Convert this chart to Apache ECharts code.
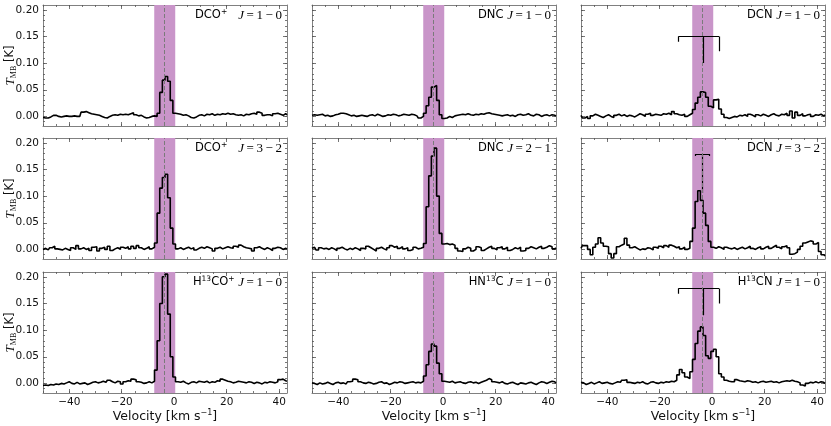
<!DOCTYPE html>
<html>
<head>
<meta charset="utf-8">
<script src="https://cdn.jsdelivr.net/npm/echarts@6/dist/echarts.min.js"></script>
<style>
html, body { margin: 0; padding: 0; background: #fff; }
#chart { width: 831px; height: 426px; }
</style>
</head>
<body>
<div id="chart"></div>
<script>
// channel velocities (km/s)
var velocity = [-50,-49,-48,-47,-46,-45,-44,-43,-42,-41,-40,-39,-38,-37,-36,-35,-34,-33,-32,-31,
  -30,-29,-28,-27,-26,-25,-24,-23,-22,-21,-20,-19,-18,-17,-16,-15,-14,-13,-12,-11,
  -10,-9,-8,-7,-6,-5,-4,-3,-2,-1,0,1,2,3,4,5,6,7,8,9,10,11,12,13,14,15,16,17,18,19,
  20,21,22,23,24,25,26,27,28,29,30,31,32,33,34,35,36,37,38,39,40,41,42,43];

// T_MB (K) per channel
var dco10 = [-0.002,-0.003,-0.003,-0.001,0.002,0.002,0.000,-0.001,0.000,0.001,
  0.000,0.000,0.001,0.000,0.000,0.008,0.009,0.007,0.005,0.004,
  0.003,0.002,0.000,-0.002,-0.003,0.000,0.002,0.003,0.002,0.004,
  0.003,0.004,0.003,0.005,0.007,0.003,0.001,0.002,-0.001,-0.003,
  -0.002,0.000,0.001,0.000,0.006,0.045,0.068,0.075,0.066,0.030,
  0.006,0.005,0.004,0.002,0.003,0.001,-0.002,-0.003,-0.001,0.002,
  0.003,0.001,0.004,0.003,0.005,0.002,0.004,0.003,0.005,0.004,
  0.006,0.004,0.005,0.003,0.002,0.003,0.001,0.004,0.003,0.005,
  0.006,0.004,0.008,0.006,0.002,0.003,0.003,0.001,0.005,0.006,
  0.004,0.002,0.005,0.003];
var dnc10 = [0.002,0.003,0.002,0.003,0.004,0.001,0.002,0.000,0.001,0.003,
  0.004,0.006,0.006,0.005,0.003,0.001,0.002,0.000,0.001,0.002,
  0.001,0.000,0.002,0.003,0.001,0.004,0.002,0.000,0.001,0.003,
  0.002,0.004,0.003,0.001,0.002,0.004,0.003,0.002,0.004,0.003,
  0.001,-0.003,0.000,0.006,0.020,0.036,0.055,0.058,0.030,0.003,
  -0.004,-0.003,0.000,-0.002,0.001,0.002,0.003,0.004,0.003,0.005,
  0.003,0.002,0.004,0.003,0.005,0.004,0.006,0.007,0.005,0.004,
  0.003,0.002,0.001,0.002,0.003,0.001,0.002,0.000,0.003,0.004,
  0.002,0.003,0.005,0.002,0.001,0.004,0.003,0.000,0.002,0.003,
  0.001,0.003,0.002,0.001];
var dcn10 = [0.002,-0.003,0.000,-0.004,0.001,0.004,0.002,0.000,-0.002,0.001,
  0.003,0.000,-0.002,0.002,0.004,0.001,0.003,0.000,0.002,0.001,
  -0.001,0.002,0.005,0.003,0.000,0.004,0.006,0.002,0.004,0.003,
  0.002,0.005,0.004,0.006,0.003,0.009,0.005,0.003,0.002,0.004,
  0.000,0.003,0.006,0.013,0.025,0.036,0.046,0.045,0.036,0.019,
  0.016,0.031,0.032,0.014,0.004,-0.002,-0.004,-0.002,0.000,-0.001,
  0.002,0.001,0.003,0.000,0.004,0.002,-0.001,0.003,0.001,0.004,
  0.002,0.000,0.003,0.005,0.002,0.001,0.004,0.003,0.006,0.002,
  0.010,-0.003,0.008,0.002,0.005,0.001,0.003,0.004,0.000,0.003,
  0.002,0.004,0.001,0.003];
var dco32 = [0.000,0.002,-0.001,0.003,0.006,0.001,0.000,-0.001,0.002,0.000,
  -0.002,0.003,0.000,0.007,0.001,0.003,0.000,0.002,-0.002,0.004,
  0.005,-0.003,0.002,0.004,0.000,0.006,-0.002,0.001,0.003,0.000,
  0.004,0.002,0.005,0.001,0.006,0.002,0.007,0.003,0.000,0.002,
  0.005,0.001,0.004,0.012,0.068,0.115,0.135,0.141,0.097,0.040,
  0.010,0.001,0.003,0.000,0.002,0.004,0.001,0.003,-0.001,0.002,
  0.004,0.002,0.005,0.003,0.001,-0.003,0.002,0.004,0.001,0.003,
  0.005,0.003,0.002,0.006,0.004,0.008,0.005,0.003,0.002,0.001,
  -0.003,0.003,0.005,0.002,0.000,0.003,0.001,-0.002,0.002,0.004,
  0.003,0.000,0.002,0.001];
var dnc21 = [0.002,0.004,-0.001,0.003,0.001,0.002,0.000,0.003,0.001,-0.002,
  0.002,0.004,0.001,-0.001,0.002,0.000,0.003,0.001,-0.002,0.002,
  0.001,0.006,0.003,0.000,-0.003,0.002,0.004,0.001,-0.001,0.003,
  0.007,0.004,0.006,0.002,0.005,0.001,0.003,-0.002,0.000,0.004,
  0.001,0.002,0.004,0.011,0.080,0.138,0.175,0.190,0.100,0.030,
  0.010,0.011,0.009,0.010,0.008,0.002,-0.003,-0.004,0.001,0.004,
  0.002,-0.003,0.000,0.005,0.003,-0.002,0.001,0.004,0.006,0.002,
  -0.001,0.003,0.005,0.001,0.004,-0.002,0.000,0.003,0.001,0.004,
  -0.003,-0.002,0.002,0.005,0.003,0.001,0.004,0.006,0.002,0.004,
  0.007,0.005,0.001,0.003];
var dcn32 = [0.002,0.007,0.007,0.000,-0.010,0.004,0.010,0.022,0.012,0.006,
  0.005,-0.008,-0.016,-0.008,0.005,0.008,0.010,0.021,0.008,0.003,
  0.005,0.002,-0.001,0.001,0.000,0.003,0.002,-0.001,0.004,0.002,
  0.006,0.003,0.007,0.004,0.008,0.006,0.003,0.005,0.001,0.004,
  0.000,0.002,0.015,0.040,0.090,0.110,0.092,0.068,0.045,0.015,
  0.004,0.002,0.005,0.003,0.000,0.004,0.002,0.001,0.003,0.000,
  0.002,0.004,0.001,0.003,0.006,0.002,0.000,0.003,0.005,0.001,
  0.004,0.006,0.002,0.005,0.008,0.004,0.001,0.005,0.007,0.003,
  -0.009,-0.008,-0.005,0.000,0.006,0.012,0.014,0.016,0.015,0.010,
  0.013,-0.004,-0.010,-0.012];
var h13cop10 = [-0.004,-0.003,-0.004,-0.002,-0.003,-0.001,-0.002,0.000,-0.001,0.001,
  0.003,0.000,-0.001,0.002,-0.001,0.000,0.001,-0.002,0.000,0.002,
  0.003,0.001,0.002,0.004,0.002,0.006,0.003,0.001,0.004,0.003,
  -0.001,0.003,0.005,0.004,0.008,0.007,0.003,0.002,0.000,0.001,
  0.003,0.001,0.004,0.025,0.080,0.150,0.200,0.205,0.130,0.050,
  0.012,0.003,0.002,0.004,0.001,-0.001,0.002,0.003,0.001,0.004,
  0.003,0.002,0.004,0.001,0.003,0.002,0.005,0.004,0.008,0.006,
  0.004,0.003,0.001,0.002,0.004,0.003,0.002,0.001,0.003,0.002,
  0.000,0.002,0.001,-0.001,0.002,0.001,0.003,0.002,0.001,0.003,
  0.007,0.008,0.005,0.004];
var hn13c10 = [0.001,0.000,-0.002,0.001,-0.001,0.000,0.002,0.000,-0.002,0.001,
  0.002,0.000,0.001,-0.001,0.003,0.004,0.008,0.007,0.003,0.001,
  0.000,0.002,0.001,-0.001,0.000,0.002,0.003,0.000,0.001,-0.002,
  0.000,0.002,0.001,0.003,0.002,0.000,0.001,0.002,0.003,0.001,
  0.002,0.001,0.004,0.014,0.035,0.060,0.074,0.070,0.038,0.018,
  0.004,0.003,0.002,0.004,0.001,0.002,0.003,0.001,0.000,0.002,
  0.003,0.001,0.002,0.000,0.002,0.004,0.006,0.009,0.007,0.003,
  0.002,0.001,0.003,0.000,-0.001,0.001,0.002,0.000,-0.002,0.001,
  0.000,-0.001,0.001,0.002,0.000,-0.002,0.001,0.003,0.002,0.000,
  0.002,0.004,0.003,0.001];
var h13cn10 = [0.002,0.001,-0.002,0.000,0.002,-0.001,0.001,0.003,0.000,0.001,
  0.002,0.000,-0.001,0.001,0.003,0.002,0.006,0.007,0.002,0.001,
  0.000,0.002,0.001,0.003,0.000,-0.001,0.002,0.003,0.001,0.000,
  0.002,0.001,0.003,0.002,0.004,0.003,0.006,0.016,0.026,0.020,
  0.012,0.009,0.022,0.045,0.075,0.098,0.106,0.090,0.052,0.047,
  0.060,0.064,0.050,0.018,0.012,0.006,0.004,0.003,0.003,0.007,
  0.005,0.004,0.003,0.005,0.004,0.002,0.003,0.001,0.003,0.004,
  0.002,0.003,0.004,0.002,0.003,0.001,0.003,0.004,0.005,0.004,
  0.006,0.004,0.003,0.001,-0.003,-0.005,0.000,0.002,0.001,0.003,
  0.001,0.003,0.002,0.000];

// hyperfine components: velocity, relative stick length, bar level (K)
var dcn10HfsVel = [-12.9, -3.4, 2.6];
var dcn10HfsLen = [0.010, 0.050, 0.028];
var dcn10HfsTop = 0.150;
var dcn32HfsVel = [-6.5, -3.6, -1.1];
var dcn32HfsLen = [0.004, 0.073, 0.004];
var dcn32HfsTop = 0.179;
var h13cn10HfsVel = [-12.9, -3.4, 2.6];
var h13cn10HfsLen = [0.010, 0.050, 0.028];
var h13cn10HfsTop = 0.178;

var vsys = -3.6;
var shadeRange = [-7.6, 0.4];

var xMajorTicks = [-40, -20, 0, 20, 40];
var yMajorTicks = [0, 0.05, 0.10, 0.15, 0.20];

var spectra = [dco10, dnc10, dcn10, dco32, dnc21, dcn32, h13cop10, hn13c10, h13cn10];
var panelTitles = [
  '{m|DCO}{s|+}{m|   }{i|J}{r|\u2009=\u20091\u2009\u2212\u20090}',
  '{m|DNC }{i|J}{r|\u2009=\u20091\u2009\u2212\u20090}',
  '{m|DCN }{i|J}{r|\u2009=\u20091\u2009\u2212\u20090}',
  '{m|DCO}{s|+}{m|   }{i|J}{r|\u2009=\u20093\u2009\u2212\u20092}',
  '{m|DNC }{i|J}{r|\u2009=\u20092\u2009\u2212\u20091}',
  '{m|DCN }{i|J}{r|\u2009=\u20093\u2009\u2212\u20092}',
  '{m|H}{s|13}{m|CO}{s|+}{m| }{i|J}{r|\u2009=\u20091\u2009\u2212\u20090}',
  '{m|HN}{s|13}{m|C }{i|J}{r|\u2009=\u20091\u2009\u2212\u20090}',
  '{m|H}{s|13}{m|CN }{i|J}{r|\u2009=\u20091\u2009\u2212\u20090}'
];
var hfsPanels = {
  2: [dcn10HfsVel, dcn10HfsLen, dcn10HfsTop],
  5: [dcn32HfsVel, dcn32HfsLen, dcn32HfsTop],
  8: [h13cn10HfsVel, h13cn10HfsLen, h13cn10HfsTop]
};

var xMin = -50, xMax = 43, yMin = -0.018, yMax = 0.209;
var colLeft = [43, 312, 581], colWidth = 244;
var rowTop = [5, 138, 272], rowHeight = 121;
var frameColor = '#808080';
var sansFont = 'DejaVu Sans';
var serifFont = 'Liberation Serif';

var xMinorTicks = [], yMinorTicks = [];
for (var t = -50; t <= 40; t += 5) xMinorTicks.push(t);
for (var u = -1; u <= 20; u++) yMinorTicks.push(u / 100);

var titleRich = {
  m: { fontFamily: sansFont, fontWeight: 'normal', fontSize: 11.5, color: '#000', lineHeight: 15, verticalAlign: 'middle' },
  s: { fontFamily: sansFont, fontWeight: 'normal', fontSize: 7.5, color: '#000', lineHeight: 7, verticalAlign: 'top' },
  i: { fontFamily: serifFont, fontWeight: 'normal', fontStyle: 'italic', fontSize: 13, color: '#000', lineHeight: 15, verticalAlign: 'middle' },
  r: { fontFamily: serifFont, fontWeight: 'normal', fontSize: 13, color: '#000', lineHeight: 15, verticalAlign: 'middle' }
};

function fmtX(v) {
  return v < 0 ? '\u2212' + Math.abs(v) : String(v);
}

var grids = [], xAxes = [], yAxes = [], series = [], titles = [];

for (var k = 0; k < 9; k++) {
  var row = Math.floor(k / 3), col = k % 3;
  grids.push({ left: colLeft[col], top: rowTop[row], width: colWidth, height: rowHeight,
    outerBoundsMode: 'none', containLabel: false });

  var bottomRow = row === 2, firstCol = col === 0;
  var xa = xAxes.length, ya = yAxes.length;

  // x axes: bottom major, bottom minor, top major, top minor
  [['bottom', true], ['bottom', false], ['top', true], ['top', false]].forEach(function (p, j) {
    var major = p[1];
    var ax = {
      type: 'value', gridIndex: k, position: p[0], min: xMin, max: xMax,
      splitLine: { show: false },
      axisLine: { show: major, onZero: false, lineStyle: { color: frameColor, width: 1 } },
      axisTick: { show: true, inside: true, length: major ? 4 : 2,
        customValues: major ? xMajorTicks : xMinorTicks,
        lineStyle: { color: '#555', width: 0.8 } },
      axisLabel: { show: false }
    };
    if (j === 0 && bottomRow) {
      ax.axisLabel = { show: true, customValues: xMajorTicks, formatter: fmtX, margin: 4,
        fontFamily: sansFont, fontSize: 10.5, color: '#111' };
      ax.name = '{a|Velocity [km s}{s|\u22121}{a|]}';
      ax.nameLocation = 'middle';
      ax.nameGap = 14;
      ax.nameTextStyle = { rich: {
        a: { fontFamily: sansFont, fontSize: 12.5, color: '#111', lineHeight: 15, verticalAlign: 'middle' },
        s: { fontFamily: sansFont, fontSize: 8, color: '#111', lineHeight: 8, verticalAlign: 'top' }
      } };
    }
    xAxes.push(ax);
  });

  // y axes: left major, left minor, right major, right minor
  [['left', true], ['left', false], ['right', true], ['right', false]].forEach(function (p, j) {
    var major = p[1];
    var ay = {
      type: 'value', gridIndex: k, position: p[0], min: yMin, max: yMax,
      splitLine: { show: false },
      axisLine: { show: major, onZero: false, lineStyle: { color: frameColor, width: 1 } },
      axisTick: { show: true, inside: true, length: major ? 4 : 2,
        customValues: major ? yMajorTicks : yMinorTicks,
        lineStyle: { color: '#555', width: 0.8 } },
      axisLabel: { show: false }
    };
    if (j === 0 && firstCol) {
      ay.axisLabel = { show: true, customValues: yMajorTicks, margin: 4,
        formatter: function (v) { return v.toFixed(2); },
        fontFamily: sansFont, fontSize: 10.5, color: '#111' };
      ay.name = '{i|T}{b|MB}{r| [K]}';
      ay.nameLocation = 'middle';
      ay.nameRotate = 90;
      ay.nameGap = 25;
      ay.nameMoveOverlap = false;
      ay.nameTextStyle = { rich: {
        i: { fontFamily: serifFont, fontStyle: 'italic', fontSize: 13, color: '#111', lineHeight: 15, verticalAlign: 'middle' },
        b: { fontFamily: serifFont, fontSize: 8, color: '#111', lineHeight: 7, verticalAlign: 'bottom' },
        r: { fontFamily: sansFont, fontSize: 11.5, color: '#111', lineHeight: 15, verticalAlign: 'middle' }
      } };
    }
    yAxes.push(ay);
  });

  var spec = spectra[k];
  series.push({
    type: 'line', xAxisIndex: xa, yAxisIndex: ya,
    data: velocity.map(function (v, i) { return [v, spec[i]]; }),
    step: 'middle', symbol: 'none', silent: true,
    lineStyle: { color: '#000', width: 1.6 },
    z: 3,
    markArea: { silent: true, itemStyle: { color: '#c995c9' },
      data: [[{ xAxis: shadeRange[0] }, { xAxis: shadeRange[1] }]] },
    markLine: { silent: true, symbol: 'none', label: { show: false },
      lineStyle: { color: '#7a7a7a', width: 1, type: [4, 2] },
      data: [{ xAxis: vsys }] }
  });

  if (hfsPanels[k]) {
    var hv = hfsPanels[k][0], hl = hfsPanels[k][1], ht = hfsPanels[k][2];
    var segs = [{ coords: [[Math.min.apply(null, hv), ht], [Math.max.apply(null, hv), ht]] }];
    hv.forEach(function (v, i) { segs.push({ coords: [[v, ht], [v, ht - hl[i]]] }); });
    series.push({
      type: 'lines', coordinateSystem: 'cartesian2d', xAxisIndex: xa, yAxisIndex: ya,
      silent: true, z: 4, lineStyle: { color: '#000', width: 1.2, opacity: 1 },
      data: segs
    });
  }

  titles.push({
    text: panelTitles[k],
    right: 831 - (colLeft[col] + colWidth) + 5,
    top: rowTop[row] + 3,
    padding: 0,
    textStyle: { fontWeight: 'normal', rich: titleRich }
  });
}

var chart = echarts.init(document.getElementById('chart'), null, { renderer: 'canvas' });
chart.setOption({
  animation: false,
  backgroundColor: '#fff',
  title: titles,
  grid: grids,
  xAxis: xAxes,
  yAxis: yAxes,
  series: series
});
</script>
</body>
</html>
